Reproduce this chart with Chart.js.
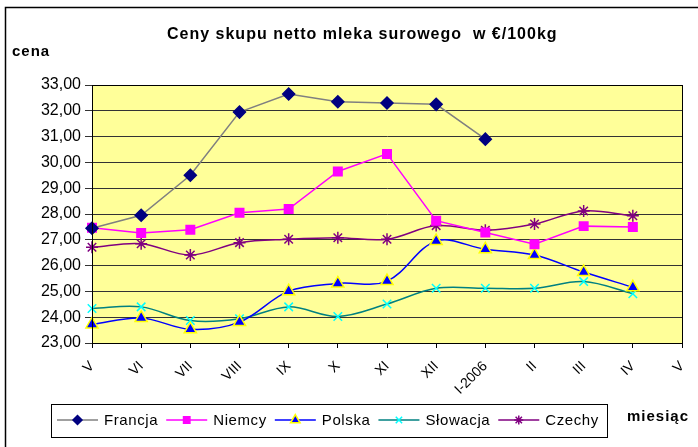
<!DOCTYPE html>
<html>
<head>
<meta charset="utf-8">
<script src="https://cdn.jsdelivr.net/npm/chart.js@4/dist/chart.umd.min.js"></script>
<style>
  html, body { margin: 0; padding: 0; background: #fff; }
  #wrap { width: 698px; height: 447px; position: relative; }
</style>
</head>
<body>
<div id="wrap"><canvas id="lineChart" width="698" height="447"></canvas></div>
<script>
// miesiace
var miesiace = ['V', 'VI', 'VII', 'VIII', 'IX', 'X', 'XI', 'XII', 'I-2006', 'II', 'III', 'IV', 'V'];

// ceny w euro / 100 kg
var francja  = [27.45, 27.95, 29.50, 31.95, 32.65, 32.35, 32.30, 32.25, 30.90];
var niemcy   = [27.47, 27.26, 27.39, 28.05, 28.19, 29.65, 30.33, 27.74, 27.28, 26.83, 27.53, 27.50];
var polska   = [23.72, 23.97, 23.53, 23.81, 25.01, 25.31, 25.40, 26.95, 26.63, 26.41, 25.75, 25.16];
var slowacja = [24.34, 24.40, 23.87, 23.94, 24.40, 24.03, 24.51, 25.12, 25.12, 25.12, 25.38, 24.91];
var czechy   = [26.71, 26.85, 26.41, 26.89, 27.02, 27.08, 27.02, 27.55, 27.37, 27.61, 28.12, 27.93];

var osY = [23, 24, 25, 26, 27, 28, 29, 30, 31, 32, 33];

const CHART = document.getElementById("lineChart");
const FONT = '"Liberation Sans", Arial, sans-serif';

// tlo, ramka, tytul, opisy osi i legenda
var dodatki = {
    id: 'dodatki',
    beforeDraw: function(chart){
        var ctx = chart.ctx, a = chart.chartArea;
        ctx.save();
        ctx.fillStyle = '#fff';
        ctx.fillRect(0, 0, chart.width, chart.height);
        ctx.fillStyle = '#FFFF99';
        ctx.fillRect(a.left, a.top, a.right - a.left, a.bottom - a.top);
        ctx.restore();
    },
    afterDraw: function(chart){
        var ctx = chart.ctx, a = chart.chartArea;
        ctx.save();
        // ramka wykresu
        ctx.strokeStyle = '#000';
        ctx.lineWidth = 1.5;
        ctx.strokeRect(5.5, 7.5, 900, 900);
        // obramowanie obszaru
        ctx.lineWidth = 1;
        ctx.strokeRect(Math.round(a.left) + 0.5, Math.round(a.top) + 0.5, Math.round(a.right - a.left), Math.round(a.bottom - a.top));

        ctx.fillStyle = '#000';
        ctx.textBaseline = 'middle';
        ctx.letterSpacing = '1px';
        ctx.font = 'bold 16px ' + FONT;
        ctx.textAlign = 'left';
        ctx.fillText('Ceny skupu netto mleka surowego  w €/100kg', 167, 35);
        ctx.font = 'bold 15px ' + FONT;
        ctx.fillText('cena', 12, 52);
        ctx.fillText('miesiąc', 627, 417);

        // legenda
        ctx.lineWidth = 1;
        ctx.strokeRect(51.5, 404.5, 556, 33);
        var x = 57, y = 420;
        ctx.letterSpacing = '0.6px';
        ctx.font = '15px ' + FONT;
        chart.data.datasets.forEach(function(ds){
            ctx.strokeStyle = ds.borderColor;
            ctx.lineWidth = 1.5;
            ctx.beginPath();
            ctx.moveTo(x, y); ctx.lineTo(x + 41, y);
            ctx.stroke();
            ctx.fillStyle = ds.pointBackgroundColor;
            ctx.strokeStyle = ds.pointBorderColor;
            ctx.lineWidth = ds.pointBorderWidth;
            Chart.helpers.drawPoint(ctx, {
                pointStyle: ds.pointStyle,
                radius: ds.pointRadius - 1.5,
                borderWidth: ds.pointBorderWidth
            }, x + 20.5, y);
            ctx.fillStyle = '#000';
            ctx.fillText(ds.label, x + 47, y + 1);
            x += 47 + ctx.measureText(ds.label).width + 8;
        });
        ctx.restore();
    }
};

function zestaw(nazwa, dane, linia, styl, wypelnienie, obrys, r, gladka){
    return {
        label: nazwa,
        data: dane,
        borderColor: linia,
        borderWidth: 1.5,
        pointStyle: styl,
        pointBackgroundColor: wypelnienie,
        pointBorderColor: obrys,
        pointBorderWidth: 1.5,
        pointRadius: r,
        tension: gladka ? 0.35 : 0,
        fill: false
    };
}

let lineChart = new Chart(CHART, {
    type: 'line',
    data: {
        labels: miesiace,
        datasets: [
            zestaw('Francja', francja, '#808080', 'rectRot', '#000080', '#000080', 6, false),
            zestaw('Niemcy', niemcy, '#FF00FF', 'rect', '#FF00FF', '#FF00FF', 6, false),
            zestaw('Polska', polska, '#0000FF', 'triangle', '#0000FF', '#FFFF00', 7, true),
            zestaw('Słowacja', slowacja, '#008080', 'crossRot', '#00FFFF', '#00FFFF', 6, true),
            zestaw('Czechy', czechy, '#800080', 'star', '#800080', '#800080', 6, true)
        ]
    },
    options: {
        responsive: false,
        animation: false,
        layout: { padding: { left: 0, top: 85, right: 5, bottom: 0 } },
        plugins: {
            legend: { display: false },
            title: { display: false },
            tooltip: { enabled: false }
        },
        scales: {
            x: {
                offset: false,
                grid: { drawOnChartArea: false, drawTicks: true, tickLength: 5, color: '#000' },
                border: { color: '#000' },
                ticks: {
                    minRotation: 45, maxRotation: 45, autoSkip: false,
                    color: '#000', padding: 10,
                    font: { family: FONT, size: 14 }
                },
                afterFit: function(s){ s.height = 447 - 343; s.paddingRight = 16; }
            },
            y: {
                min: 23, max: 33,
                afterBuildTicks: function(s){ s.ticks = osY.map(function(v){ return { value: v }; }); },
                grid: { color: '#333', tickLength: 7 },
                border: { color: '#000' },
                ticks: {
                    color: '#000', padding: 4,
                    font: { family: FONT, size: 16 },
                    callback: function(v){ return v.toFixed(2).replace('.', ','); }
                },
                afterFit: function(s){ s.width = 92; }
            }
        }
    },
    plugins: [dodatki]
});
</script>
</body>
</html>
